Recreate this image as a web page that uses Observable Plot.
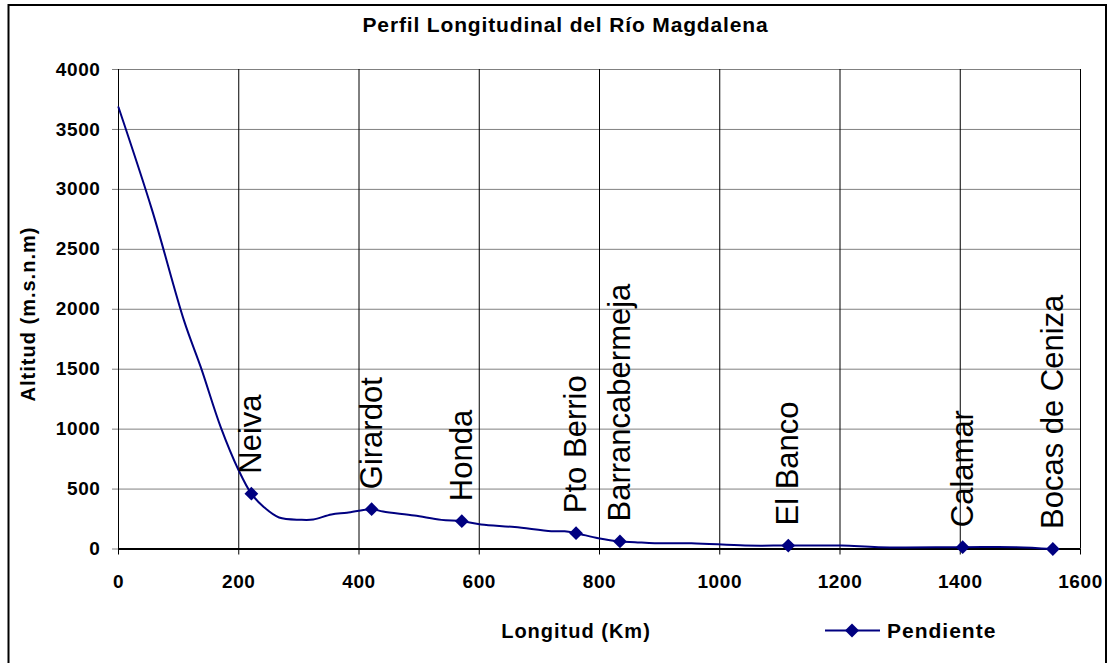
<!DOCTYPE html>
<html><head><meta charset="utf-8">
<script src="https://cdn.jsdelivr.net/npm/d3@7"></script>
<script src="https://cdn.jsdelivr.net/npm/@observablehq/plot@0.6"></script>
<style>
html,body{margin:0;padding:0;background:#fff;overflow:hidden;}
#chart svg{display:block;}
</style></head><body><div id="chart"></div>
<script>
// ---- data ----
const profileKm  = [0, 56, 109, 137, 170, 200, 221, 242, 267, 303, 324, 354, 380, 421, 440, 492, 537, 571, 603, 659, 720, 742, 761, 798, 834, 859, 892, 953, 1042, 1114, 1203, 1264, 1404, 1492, 1554];
const profileAlt = [3685, 2825, 1905, 1515, 1017, 655, 461, 349, 263, 244, 246, 288, 303, 332, 312, 279, 243, 232, 205, 183, 149, 148, 132, 90, 63, 57, 48, 48, 29, 29, 29, 15, 15, 15, 0];
const townNames = ["Neiva", "Girardot", "Honda", "Pto Berrio", "Barrancabermeja", "El Banco", "Calamar", "Bocas de Ceniza"];
const townKm    = [221, 421, 571, 761, 834, 1114, 1404, 1554];
const townAlt   = [461, 332, 232, 132, 63, 29, 15, 0];
const xTicks = [0, 200, 400, 600, 800, 1000, 1200, 1400, 1600];
const yTicks = [0, 500, 1000, 1500, 2000, 2500, 3000, 3500, 4000];
const titleText = "Perfil Longitudinal del Río Magdalena";
const xTitle = "Longitud (Km)";
const yTitle = "Altitud (m.s.n.m)";
const seriesName = "Pendiente";

// ---- build ----
const profile = profileKm.map((k, i) => ({km: k, alt: profileAlt[i]}));
const towns = townNames.map((n, i) => ({name: n, km: townKm[i], alt: townAlt[i]}));
const navy = "#000080";
const font = "Arial, 'Liberation Sans', sans-serif";

const chart = Plot.plot({
  width: 1112, height: 663,
  marginLeft: 118, marginRight: 32, marginTop: 69, marginBottom: 114.5,
  style: {fontFamily: font, background: "#fff", color: "#000"},
  x: {domain: [0, 1600]},
  y: {domain: [0, 4000]},
  marks: [
    Plot.gridY(yTicks, {stroke: "#808080", strokeOpacity: 1}),
    Plot.gridX(xTicks, {stroke: "#000", strokeOpacity: 1}),
    Plot.axisY(yTicks, {tickSize: 6, tickPadding: 12, fontSize: 19, fontWeight: "bold", stroke: "#808080", fill: "#000", label: null, tickFormat: d => String(d)}),
    Plot.axisX(xTicks, {tickSize: 6, tickPadding: 19, fontSize: 19, fontWeight: "bold", stroke: "#000", fill: "#000", label: null, tickFormat: d => String(d)}),
    Plot.ruleY([0], {stroke: "#000", strokeWidth: 2}),
    Plot.line(profile, {x: "km", y: "alt", stroke: navy, strokeWidth: 2, curve: "catmull-rom"}),
    Plot.dot(towns, {x: "km", y: "alt", symbol: "diamond2", r: 6.2, fill: navy, stroke: "none"}),
    Plot.text(towns, {x: "km", y: "alt", text: "name", rotate: -90, textAnchor: "start", lineAnchor: "middle", dy: -20, fontSize: 31, fill: "#000", fontFamily: font})
  ]
});
document.getElementById("chart").appendChild(chart);

const svg = d3.select(chart);
svg.selectAll('g[aria-label="y-axis tick label"] text, g[aria-label="x-axis tick label"] text').attr("letter-spacing", 0.6);

// title
svg.append("text").attr("x", 565.5).attr("y", 31.5).attr("text-anchor", "middle")
  .attr("font-family", font).attr("font-size", 21).attr("font-weight", "bold").attr("letter-spacing", 0.85)
  .text(titleText);
// y title
svg.append("text").attr("transform", "translate(35,314) rotate(-90)").attr("text-anchor", "middle")
  .attr("font-family", font).attr("font-size", 20).attr("font-weight", "bold").attr("letter-spacing", 1)
  .text(yTitle);
// x title
svg.append("text").attr("x", 576).attr("y", 638).attr("text-anchor", "middle")
  .attr("font-family", font).attr("font-size", 20).attr("font-weight", "bold").attr("letter-spacing", 1)
  .text(xTitle);
// legend
const lg = svg.append("g");
lg.append("line").attr("x1", 825).attr("x2", 880).attr("y1", 630.5).attr("y2", 630.5).attr("stroke", navy).attr("stroke-width", 2);
lg.append("path").attr("transform", "translate(852,630.5)").attr("d", d3.symbol(d3.symbolDiamond2, 125)()).attr("fill", navy);
lg.append("text").attr("x", 887).attr("y", 638).attr("text-anchor", "start")
  .attr("font-family", font).attr("font-size", 21).attr("font-weight", "bold").attr("letter-spacing", 1)
  .text(seriesName);
// outer border
svg.append("rect").attr("x", 8.5).attr("y", 5).attr("width", 1097.5).attr("height", 700)
  .attr("fill", "none").attr("stroke", "#000").attr("stroke-width", 2);
</script></body></html>
